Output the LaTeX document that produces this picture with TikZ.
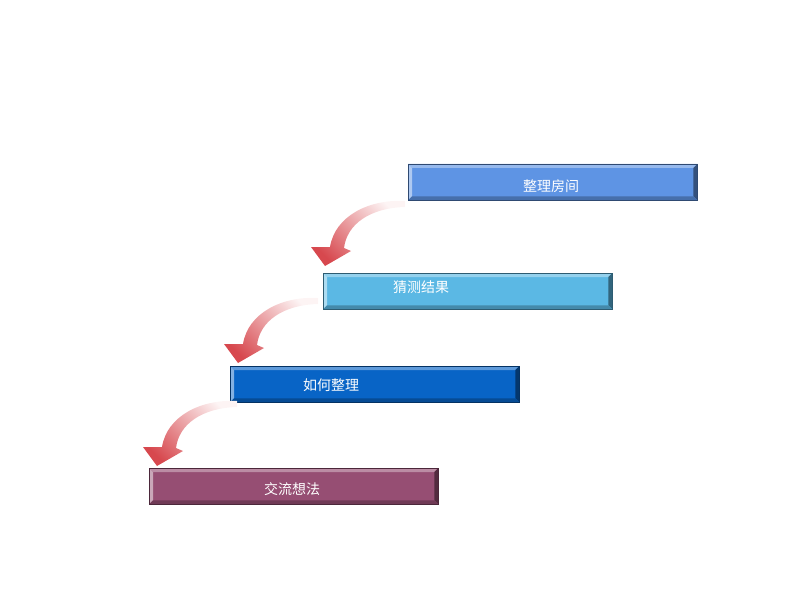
\documentclass[tikz,border=0pt]{standalone}
\usepackage{fontspec}
\newfontfamily\cjk{Noto Sans CJK SC}
\definecolor{cA}{RGB}{94,148,228}
\definecolor{cB}{RGB}{91,184,228}
\definecolor{cC}{RGB}{8,100,198}
\definecolor{cD}{RGB}{150,78,115}
\definecolor{arrred}{RGB}{215,72,78}
\tikzset{
  boxbase/.style={rectangle, inner sep=0pt, minimum width=289pt, minimum height=36pt, anchor=north west},
  lbl/.style={text=white, font=\cjk\fontsize{14}{14}\selectfont, inner sep=0pt},
  curvarrow/.pic={
    \shade[top color=arrred!6!white, bottom color=arrred, shading angle=-45]
      (80,-65) .. controls (44,-67) and (10,-50) .. (5,-19) -- (-14,-19) -- (0,0) -- (26,-15) -- (19,-18)
      .. controls (22,-42) and (45,-58) .. (80,-59) -- cycle;
  }
}
\newcommand{\bevelbox}[4]{% name, x, y, color
  \node[boxbase, fill=#4] (#1) at (#2,#3) {};
  \fill[#4!65!white] (#1.north west) -- (#1.north east) -- ([shift={(-4,4)}]#1.north east) -- ([shift={(4,4)}]#1.north west) -- cycle;
  \fill[#4!50!white] (#1.north west) -- ([shift={(4,4)}]#1.north west) -- ([shift={(4,-4)}]#1.south west) -- (#1.south west) -- cycle;
  \fill[#4!55!black] (#1.north east) -- ([shift={(-4,4)}]#1.north east) -- ([shift={(-4,-4)}]#1.south east) -- (#1.south east) -- cycle;
  \fill[#4!75!black] (#1.south west) -- ([shift={(4,-4)}]#1.south west) -- ([shift={(-4,-4)}]#1.south east) -- (#1.south east) -- cycle;
  \draw[#4!50!black, line width=0.3pt] (#1.north west) rectangle (#1.south east);
}
\begin{document}
\begin{tikzpicture}[x=1pt, y=-1pt]
  \useasboundingbox (0,0) rectangle (794,596);
  \bevelbox{b1}{408}{164}{cA}
  \bevelbox{b2}{323}{273}{cB}
  \bevelbox{b3}{230}{366}{cC}
  \bevelbox{b4}{149}{468}{cD}
  \node[lbl] (t1) at (551,186) {整理房间};
  \node[lbl] (t2) at (421,287) {猜测结果};
  \node[lbl] (t3) at (331,385) {如何整理};
  \node[lbl] (t4) at (292,489) {交流想法};
  \pic at ([shift={(2,-7)}]b2.north west) {curvarrow};
  \pic at ([shift={(8,-3)}]b3.north west) {curvarrow};
  \pic at ([shift={(8,-2)}]b4.north west) {curvarrow};
\end{tikzpicture}
\end{document}
